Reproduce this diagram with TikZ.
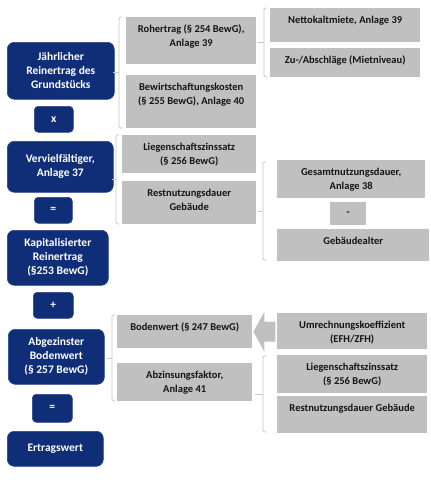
\documentclass[tikz,border=0pt]{standalone}
\usepackage{fontspec}
\setmainfont{Carlito}
\usetikzlibrary{calc}
\definecolor{dblue}{RGB}{16,46,120}
\definecolor{dbluedraw}{RGB}{40,70,140}
\definecolor{gfill}{RGB}{192,192,192}
\definecolor{brkcol}{RGB}{200,200,200}
\definecolor{gtxt}{RGB}{20,20,20}
\newcommand\gb[5]{%
  \node[gbox, minimum width=#3, minimum height=#4] (#1) at (#2) {};
  \node[gtext] (#1t) at ([yshift=-7.5pt]#1.north) {#5};}
\newcommand\brkt[4]{% x, top, bottom, tick x
  \draw[brkline] (#1+3,#2) -- (#1,#2) -- (#1,#3) -- (#1+3,#3);
  \draw[brkline] (#1,{(#2+#3)/2}) -- (#4,{(#2+#3)/2});}
\begin{document}
\begin{tikzpicture}[x=1pt,y=-1pt,
  bbox/.style={fill=dblue, draw=dbluedraw, line width=0.6pt, rounded corners=7pt, anchor=north west, inner sep=0pt,
    text=white, align=center, font=\fontsize{11.5}{14}\selectfont\bfseries},
  obox/.style={bbox, rounded corners=4pt},
  gbox/.style={fill=gfill, draw=none, anchor=north west, inner sep=0pt},
  gtext/.style={anchor=north, inner sep=0pt, align=center, text=gtxt, font=\fontsize{10.5}{14}\selectfont\bfseries},
  gop/.style={fill=gfill, anchor=north west, inner sep=0pt, text=gtxt, font=\fontsize{10.5}{13}\selectfont\bfseries},
  brkline/.style={draw=brkcol, line width=0.8pt, rounded corners=1.5pt}]
\useasboundingbox[fill=white] (0,0) rectangle (431,480);

% left column
\node[bbox, minimum width=107, minimum height=57] (b1) at (7,42) {Jährlicher\\Reinertrag des\\Grundstücks};
\node[obox, minimum width=39, minimum height=26] (ox) at (34,106) {x};
\node[bbox, minimum width=106, minimum height=51] (b2) at (7,141) {Vervielfältiger,\\Anlage 37};
\node[obox, minimum width=38, minimum height=26] (oe1) at (34,197) {=};
\node[bbox, minimum width=101, minimum height=55] (b3) at (7,230) {Kapitalisierter\\Reinertrag\\(§253 BewG)};
\node[obox, minimum width=40, minimum height=26] (op) at (33,292) {+};
\node[bbox, minimum width=96, minimum height=55] (b4) at (8,329) {Abgezinster\\Bodenwert\\(§ 257 BewG)};
\node[obox, minimum width=40, minimum height=28] (oe2) at (32,394) {=};
\node[bbox, minimum width=96, minimum height=35] (b5) at (7,431) {Ertragswert};

% gray boxes
\gb{roh}{126,17}{130}{47}{Rohertrag (§ 254 BewG),\\Anlage 39}
\gb{bew}{126,75}{130}{53}{Bewirtschaftungskosten\\(§ 255 BewG), Anlage 40}
\gb{net}{270,8}{150}{34}{Nettokaltmiete, Anlage 39}
\gb{zu}{270,48}{150}{29}{Zu-/Abschläge (Mietniveau)}
\gb{lz1}{122,135}{134}{38}{Liegenschaftszinssatz\\(§ 256 BewG)}
\gb{rnd1}{122,181}{134}{43}{Restnutzungsdauer\\Gebäude}
\gb{gnd}{277,160}{148}{38}{Gesamtnutzungsdauer,\\Anlage 38}
\node[gop, minimum width=36, minimum height=23] (om) at (330,202) {-};
\gb{alt}{277,229}{152}{32}{Gebäudealter}
\gb{bw}{117,315}{135}{33}{Bodenwert (§ 247 BewG)}
\gb{abz}{117,363}{135}{38}{Abzinsungsfaktor,\\Anlage 41}
\gb{uk}{277,313}{150}{36}{Umrechnungskoeffizient\\(EFH/ZFH)}
\gb{lz2}{277,355}{150}{38}{Liegenschaftszinssatz\\(§ 256 BewG)}
\gb{rnd2}{277,396}{150}{37}{Restnutzungsdauer Gebäude}

% brackets
\brkt{119}{17}{128}{113}
\brkt{264}{8}{77}{258}
\brkt{116}{135}{224}{112}
\brkt{263}{162}{260}{258}
\brkt{112}{315}{401}{107}
\brkt{263}{356}{432}{255}

% block arrow from uk to bw
\fill[gfill] ([xshift=1pt]bw.east) -- ++(11,-20) -- ++(0,10) -- ++(11,0) -- ++(0,20) -- ++(-11,0) -- ++(0,10) -- cycle;
\end{tikzpicture}
\end{document}
